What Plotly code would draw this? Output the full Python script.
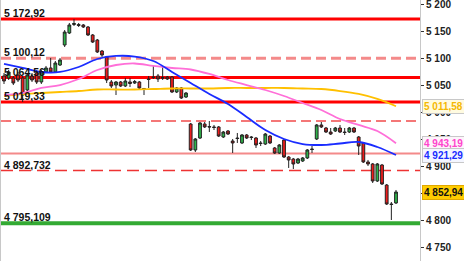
import plotly.graph_objects as go

# ---- candle data (index = bar number) ----
opens = [5067.5, 5063.8, 5063.8, 5069.3, 5063.8, 5041.6, 5067.5, 5073.0, 5056.4, 5074.9,
         5082.3, 5074.9, 5087.8, 5124.8, 5147.0, 5162.7, 5162.7, 5161.8, 5158.1, 5143.3,
         5134.0, 5113.7, 5102.6, 5056.4, 5050.8, 5056.4, 5049.0, 5056.4, 5054.5, 5056.4,
         5044.4, 5061.9, 5065.6, 5067.5, 5064.7, 5065.6, 5065.6, 5037.9, 5045.3, 5028.6,
         4978.7, 4930.7, 4952.8, 4978.7, 4974.1, 4973.2, 4973.2, 4954.7, 4965.8, 4947.3,
         4952.8, 4943.6, 4958.4, 4954.7, 4952.8, 4943.6, 4941.7, 4956.5, 4934.4, 4925.1,
         4949.1, 4917.7, 4914.0, 4906.6, 4910.3, 4915.9, 4932.5, 4951.0, 4976.9, 4971.3,
         4963.9, 4965.8, 4971.3, 4963.9, 4963.9, 4971.3, 4954.7, 4943.6, 4908.5, 4904.8,
         4873.3, 4902.9, 4865.9, 4830.8, 4832.7]
highs = [5073.0, 5078.6, 5067.5, 5074.9, 5067.5, 5073.0, 5073.0, 5078.6, 5078.6, 5086.0,
         5100.8, 5095.2, 5100.8, 5152.5, 5165.5, 5172.9, 5165.5, 5163.6, 5159.9, 5145.1,
         5135.9, 5115.6, 5104.5, 5060.1, 5058.2, 5058.2, 5063.8, 5063.8, 5060.1, 5058.2,
         5045.3, 5067.5, 5086.0, 5071.2, 5084.1, 5067.5, 5067.5, 5047.1, 5047.1, 5037.9,
         4980.6, 4952.8, 4982.4, 4982.4, 4984.3, 4976.9, 4975.0, 4965.8, 4967.6, 4951.0,
         4962.1, 4960.2, 4960.2, 4956.5, 4954.7, 4947.3, 4962.1, 4958.4, 4936.2, 4941.7,
         4951.0, 4919.6, 4915.9, 4915.9, 4917.7, 4932.5, 4938.0, 4978.7, 4982.4, 4973.2,
         4971.3, 4973.2, 4976.9, 4971.3, 4973.2, 4973.2, 4956.5, 4945.4, 4912.2, 4906.6,
         4906.6, 4904.8, 4867.8, 4834.5, 4856.7]
lows = [5052.7, 5060.1, 5050.8, 5056.4, 5019.4, 5037.9, 5056.4, 5052.7, 5052.7, 5073.0,
        5073.0, 5073.0, 5086.0, 5121.1, 5145.1, 5159.9, 5158.1, 5156.2, 5141.4, 5128.5,
        5110.0, 5102.6, 5054.5, 5045.3, 5032.3, 5047.1, 5047.1, 5047.1, 5052.7, 5043.4,
        5032.3, 5045.3, 5061.9, 5056.4, 5060.1, 5060.1, 5036.0, 5036.0, 5025.0, 5026.8,
        4928.8, 4927.0, 4951.0, 4971.3, 4963.9, 4967.6, 4954.7, 4952.8, 4958.4, 4925.1,
        4943.6, 4941.7, 4951.0, 4949.1, 4934.4, 4938.0, 4939.9, 4941.7, 4923.3, 4923.3,
        4915.9, 4897.4, 4895.5, 4904.8, 4908.5, 4914.0, 4925.1, 4949.1, 4971.3, 4962.1,
        4958.4, 4963.9, 4962.1, 4958.4, 4962.1, 4962.1, 4921.4, 4906.6, 4901.1, 4869.6,
        4871.5, 4865.9, 4829.0, 4801.2, 4830.8]
closes = [5058.2, 5074.9, 5054.5, 5060.1, 5032.3, 5069.3, 5060.1, 5056.4, 5074.9, 5082.3,
          5074.9, 5091.5, 5097.1, 5148.8, 5161.8, 5164.6, 5160.9, 5158.1, 5143.3, 5130.3,
          5111.9, 5106.3, 5060.1, 5049.0, 5056.4, 5049.0, 5058.2, 5053.6, 5057.3, 5045.3,
          5043.4, 5061.0, 5064.7, 5061.9, 5063.8, 5061.9, 5037.9, 5045.3, 5026.8, 5036.0,
          4930.7, 4951.0, 4980.6, 4973.2, 4973.2, 4972.3, 4956.5, 4963.9, 4960.2, 4943.6,
          4951.9, 4958.4, 4952.8, 4953.8, 4939.9, 4942.7, 4960.2, 4943.6, 4925.1, 4939.9,
          4917.7, 4912.2, 4904.8, 4914.0, 4915.9, 4930.7, 4931.6, 4976.9, 4973.2, 4963.9,
          4960.2, 4971.3, 4963.9, 4963.0, 4971.3, 4963.9, 4938.0, 4908.5, 4904.8, 4873.3,
          4904.8, 4867.8, 4830.8, 4829.9, 4852.94]

# ---- moving averages, sampled every 4 bars ----
ma_index = [0, 4, 8, 12, 16, 20, 24, 28, 32, 36, 40, 44, 48, 52, 56, 60, 64, 68, 72, 76, 80, 84]
ma_blue = [5089.7, 5082.3, 5074.9, 5074.9, 5084.1, 5098.9, 5104.5, 5103.5, 5095.2, 5074.9, 5054.5,
           5034.2, 5015.7, 4991.7, 4967.6, 4951.0, 4941.7, 4939.9, 4942.7, 4945.4, 4936.2, 4921.29]
ma_pink = [5032.3, 5036.0, 5045.3, 5050.8, 5061.9, 5078.6, 5087.8, 5090.6, 5086.0, 5082.3, 5079.5,
           5071.2, 5060.1, 5050.8, 5041.6, 5030.5, 5017.6, 5004.6, 4988.0, 4976.9, 4965.8, 4943.19]
ma_yellow = [5030.5, 5034.2, 5036.0, 5037.9, 5039.7, 5042.5, 5042.5, 5042.5, 5043.4, 5044.4, 5044.4,
             5044.4, 5045.3, 5045.3, 5045.3, 5045.3, 5044.4, 5043.4, 5039.7, 5034.2, 5025.0, 5011.58]

# ---- horizontal levels ----
level_values = [5172.92, 5100.12, 5064.56, 5019.33, 4984.3, 4924.0, 4892.732, 4795.109]
level_labels = ["5 172,92", "5 100,12", "5 064,56", "5 019,33", "", "", "4 892,732", "4 795,109"]
level_styles = [("#ff0000", 3, "solid"), ("#f48a8a", 3, "10px,5px"), ("#ff0000", 3, "solid"),
                ("#ff0000", 3, "solid"), ("#f47777", 2, "10px,5px"), ("#f48a8a", 2, "solid"),
                ("#ee3333", 1.5, "12px,6px"), ("#33aa33", 4, "solid")]

tick_vals = [4750, 4800, 4850, 4900, 4950, 5000, 5050, 5100, 5150, 5200]
tick_text = ["4 750", "4 800", "4 850", "4 900", "4 950", "5 000", "5 050", "5 100", "5 150", "5 200"]


def fmt(v, nd=2):
    return f"{v:,.{nd}f}".replace(",", " ").replace(".", ",")


FONT = "Liberation Sans, Arial, sans-serif"
idx = list(range(len(opens)))

fig = go.Figure()
fig.add_trace(go.Scatter(x=ma_index, y=ma_yellow, mode="lines", line=dict(color="#ffc000", width=1.8, shape="spline"), hoverinfo="skip"))
fig.add_trace(go.Scatter(x=ma_index, y=ma_pink, mode="lines", line=dict(color="#ff6fd8", width=1.8, shape="spline"), hoverinfo="skip"))
fig.add_trace(go.Scatter(x=ma_index, y=ma_blue, mode="lines", line=dict(color="#1a2cff", width=1.8, shape="spline"), hoverinfo="skip"))
fig.add_trace(go.Candlestick(
    x=idx, open=opens, high=highs, low=lows, close=closes,
    increasing=dict(line=dict(color="#222222", width=1), fillcolor="#2fb34a"),
    decreasing=dict(line=dict(color="#222222", width=1), fillcolor="#ee1c1c"),
    whiskerwidth=0,
))

for v, (c, w, d) in zip(level_values, level_styles):
    fig.add_shape(type="line", xref="paper", x0=0, x1=1, y0=v, y1=v,
                  line=dict(color=c, width=w, dash=d), layer="below")

for v, t in zip(level_values, level_labels):
    if t:
        fig.add_annotation(x=0, xref="paper", xanchor="left", xshift=1, y=v, yanchor="bottom", yshift=-2,
                           text=t, showarrow=False, font=dict(family=FONT, size=10.5, color="#111111", weight="bold"))

right_labels = [
    (ma_yellow[-1], "#f5b800", "#fffbe0", "#c8c8c8"),
    (ma_pink[-1], "#ff44cc", "#fdf4fb", "#c8c8c8"),
    (ma_blue[-1], "#1a2cff", "#f4f6ff", "#c8c8c8"),
    (closes[-1], "#111111", "#ffcc00", "#e0a800"),
]
for v, fc, bg, bc in right_labels:
    fig.add_annotation(x=1, xref="paper", xanchor="left", xshift=2, y=v, yanchor="middle",
                       text=fmt(v), showarrow=False, bgcolor=bg, bordercolor=bc, borderwidth=1, borderpad=1,
                       font=dict(family=FONT, size=10, color=fc, weight="bold"))

fig.update_layout(
    width=464, height=261,
    margin=dict(l=1, r=44, t=0, b=0),
    paper_bgcolor="white", plot_bgcolor="white",
    showlegend=False, boxgap=0.15,
    xaxis=dict(range=[-0.643, 89.14], showticklabels=False, showgrid=False, zeroline=False,
               rangeslider=dict(visible=False), ticks="", showline=False, fixedrange=True),
    yaxis=dict(side="right", range=[4725.4, 5208.0], tickvals=tick_vals, ticktext=tick_text,
               showgrid=False, zeroline=False, ticks="outside", ticklen=3, tickcolor="#333333",
               showline=True, mirror=True, linecolor="#c8c8c8", linewidth=1,
               ticklabeloverflow="allow",
               tickfont=dict(family=FONT, size=10, color="#222222", weight="bold")),
)

fig.write_html("out.html", config={"displayModeBar": False})
